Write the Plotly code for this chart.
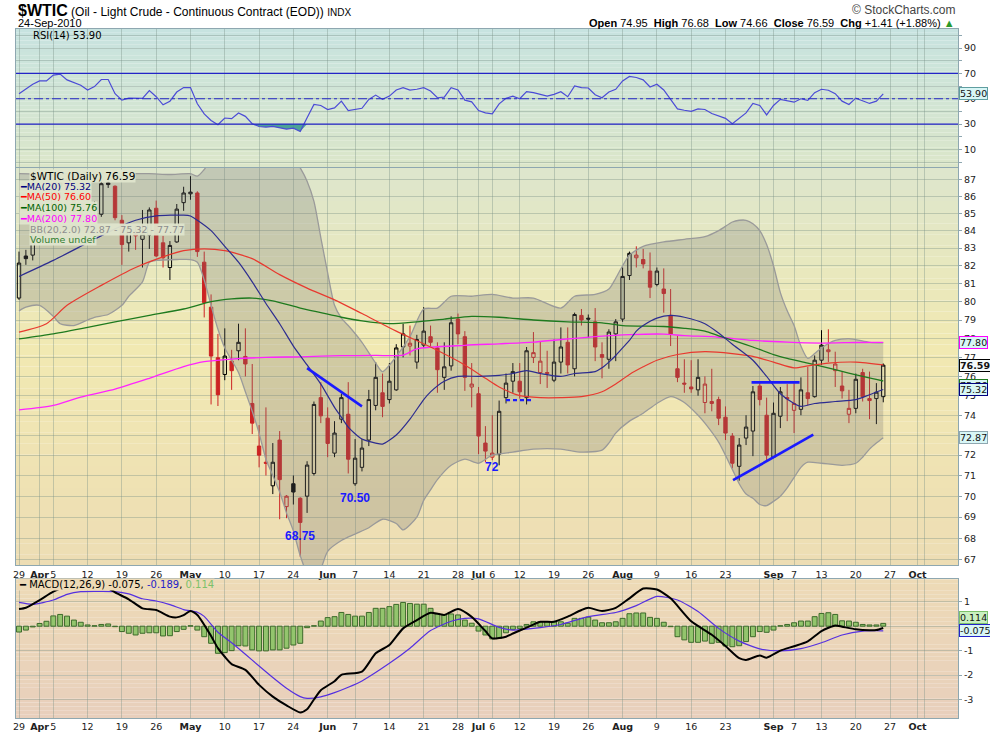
import math
import pandas as pd
import plotly.graph_objects as go

# ---- $WTIC daily, 29 Mar 2010 .. 24 Sep 2010
HOLIDAYS = ["2010-05-31", "2010-07-05", "2010-09-06"]

opens = [80.20, 82.55, 82.60, 83.70, 84.85, 85.00, 86.60, 86.80, 85.80, 85.20,
         84.80, 85.50, 84.95, 86.70, 86.60, 84.60, 83.30, 83.90, 83.50, 83.75,
         85.30, 83.30, 81.90, 83.35, 85.63, 86.15, 86.20, 82.20, 79.70, 76.98,
         76.10, 76.80, 77.35, 77.05, 74.60, 72.45, 71.65, 70.50, 72.75, 69.50,
         70.60, 69.90, 70.00, 71.10, 74.90, 73.85, 72.10, 73.80, 74.05, 70.60,
         71.40, 72.75, 74.50, 75.15, 74.80, 75.30, 77.55, 77.60, 76.75, 77.65,
         78.10, 77.50, 75.95, 76.55, 79.05, 78.10, 75.45, 75.10, 72.60, 71.90,
         72.05, 74.90, 75.75, 75.75, 74.90, 77.00, 76.20, 76.15, 75.80, 76.75,
         77.80, 76.40, 79.25, 79.10, 78.90, 77.15, 76.90, 78.25, 79.05, 81.45,
         82.45, 82.35, 81.70, 80.95, 80.70, 79.25, 76.40, 75.65, 75.45, 75.30,
         74.65, 74.60, 74.80, 73.90, 72.95, 71.45, 72.85, 73.20, 75.50, 74.00,
         71.90, 73.95, 74.90, 74.25, 74.30, 75.15, 74.95, 76.85, 77.30, 76.30,
         75.50, 74.05, 74.35, 76.20, 74.85, 74.85, 74.95]
highs = [82.80, 82.90, 83.80, 85.00, 84.95, 86.90, 87.10, 87.05, 86.30, 85.60,
         85.20, 85.70, 86.95, 86.95, 86.65, 84.90, 84.25, 84.30, 85.20, 85.35,
         85.75, 83.70, 83.40, 85.55, 86.57, 87.20, 86.30, 82.80, 80.40, 78.25,
         78.55, 77.40, 78.80, 78.55, 76.65, 73.50, 74.40, 72.60, 73.20, 70.05,
         71.00, 69.95, 71.70, 74.70, 75.70, 74.40, 73.70, 75.10, 75.70, 72.80,
         72.80, 75.30, 76.75, 76.15, 76.70, 77.70, 78.80, 78.70, 78.20, 79.70,
         78.70, 77.80, 77.80, 79.20, 79.35, 78.40, 76.70, 75.45, 73.45, 74.00,
         74.75, 76.15, 76.70, 76.70, 77.55, 78.35, 77.85, 77.35, 77.95, 78.60,
         78.60, 79.40, 79.60, 79.30, 79.65, 77.80, 78.50, 79.05, 81.90, 82.80,
         83.10, 82.95, 82.75, 81.90, 81.85, 80.70, 78.15, 76.90, 76.85, 76.90,
         76.00, 76.40, 74.95, 74.45, 73.10, 72.85, 74.00, 75.50, 75.70, 74.90,
         74.65, 75.45, 75.60, 75.65, 75.95, 76.50, 77.10, 78.45, 78.50, 77.30,
         76.25, 75.30, 76.15, 76.40, 76.25, 75.65, 76.68]
lows = [80.10, 82.05, 82.30, 83.40, 84.75, 84.80, 85.90, 85.60, 84.60, 84.50,
        83.90, 84.80, 84.80, 86.50, 84.60, 82.05, 82.80, 82.90, 81.90, 82.95,
        82.50, 81.90, 81.20, 83.30, 85.15, 85.80, 82.50, 79.14, 74.55, 74.47,
        75.80, 75.30, 76.85, 76.00, 73.05, 71.40, 71.00, 70.10, 68.90, 68.95,
        69.60, 67.15, 69.20, 71.00, 73.60, 71.90, 71.90, 73.60, 71.10, 70.50,
        71.20, 72.45, 74.25, 73.90, 74.60, 75.25, 77.00, 77.10, 76.40, 77.50,
        77.60, 75.15, 75.30, 76.30, 77.70, 75.25, 74.40, 72.05, 71.65, 71.75,
        71.50, 74.60, 75.15, 74.85, 74.55, 76.70, 75.60, 75.40, 75.70, 76.15,
        76.15, 76.00, 78.70, 78.05, 76.80, 75.90, 76.40, 76.80, 78.90, 81.20,
        81.90, 81.85, 80.20, 80.85, 79.40, 77.60, 75.70, 75.15, 75.15, 75.00,
        74.10, 74.20, 73.50, 72.75, 71.35, 70.75, 72.50, 71.95, 74.50, 71.75,
        71.85, 73.35, 73.70, 73.10, 74.00, 74.50, 74.90, 76.60, 76.75, 75.45,
        74.85, 73.60, 74.10, 74.70, 73.80, 73.55, 74.66]
closes = [82.15, 82.40, 83.50, 84.85, 84.87, 86.60, 86.80, 85.90, 85.10, 84.90,
          84.30, 85.20, 86.75, 86.80, 84.75, 83.20, 84.15, 83.70, 83.80, 85.20,
          82.55, 82.45, 83.15, 85.25, 86.20, 86.25, 82.80, 79.95, 77.07, 75.05,
          77.07, 76.30, 77.80, 76.65, 73.60, 72.00, 71.60, 71.65, 70.80, 70.00,
          70.20, 68.75, 71.51, 74.55, 73.97, 72.58, 73.10, 74.90, 71.80, 71.85,
          72.35, 74.80, 75.95, 74.45, 75.75, 77.50, 78.25, 77.75, 77.95, 78.40,
          77.80, 76.35, 76.50, 78.85, 78.25, 75.95, 75.60, 72.95, 72.20, 72.10,
          74.20, 75.65, 76.25, 75.20, 77.35, 77.25, 76.80, 76.20, 76.75, 77.55,
          76.60, 79.30, 79.00, 79.05, 77.55, 77.00, 78.35, 78.90, 81.40, 82.70,
          82.60, 82.10, 80.80, 81.70, 80.45, 78.25, 75.95, 75.60, 75.35, 75.95,
          75.60, 74.70, 73.85, 73.10, 71.60, 72.50, 73.40, 75.20, 74.80, 72.00,
          74.10, 75.20, 74.85, 74.60, 75.30, 74.85, 76.85, 77.65, 77.40, 76.65,
          75.25, 74.35, 75.85, 74.95, 74.75, 75.18, 76.59]
close_before = 80.00  # 26 Mar close, only decides the colour of the first candle

# overlays, read at a handful of trading days (day number 0 = 29 Mar)
ma20_days = [0, 5, 10, 14, 17, 20, 24, 25, 26, 28, 30, 32, 34, 36, 38, 40, 42, 44, 46, 47,
             48, 50, 52, 53, 55, 57, 59, 60, 62, 64, 67, 70, 72, 74, 76, 79, 81, 84, 85, 86,
             87, 88, 89, 90, 91, 93, 95, 97, 100, 102, 104, 107, 109, 111, 113, 114, 116, 119,
             122, 124, 126]
ma20 = [81.4, 82.3, 83.3, 84.1, 84.6, 84.85, 84.9, 84.85, 84.6, 84.0, 83.1, 82.2, 81.1, 79.9,
        78.8, 77.6, 76.6, 75.6, 74.4, 73.9, 73.4, 72.8, 72.6, 72.55, 73.0, 73.8, 74.8, 75.2,
        75.75, 76.0, 76.0, 76.05, 76.15, 76.3, 76.15, 76.0, 76.15, 76.25, 76.45, 76.75, 77.1,
        77.5, 77.9, 78.4, 78.7, 79.1, 79.25, 79.15, 78.8, 78.3, 77.7, 76.85, 76.0, 75.1, 74.6,
        74.45, 74.6, 74.7, 74.8, 75.05, 75.32]
ma50_days = [0, 4, 7, 12, 17, 21, 24, 27, 30, 34, 38, 42, 46, 50, 55, 60, 65, 68, 70, 73,
             76, 79, 82, 85, 87, 89, 91, 93, 96, 100, 104, 107, 110, 113, 115, 118, 122, 126]
ma50 = [78.35, 78.8, 79.8, 80.9, 81.9, 82.5, 82.85, 82.95, 82.85, 82.4, 81.5, 80.75, 80.1,
        79.35, 78.4, 77.55, 76.6, 75.9, 75.45, 75.0, 74.9, 74.9, 74.95, 75.2, 75.6, 76.1, 76.5,
        76.85, 77.15, 77.3, 77.2, 77.05, 76.75, 76.45, 76.55, 76.7, 76.75, 76.6]
ma100_days = [0, 5, 10, 14, 19, 24, 28, 31, 34, 37, 41, 44, 47, 50, 54, 58, 62, 66, 70, 75,
              80, 85, 88, 94, 97, 100, 102, 105, 107, 110, 112, 115, 119, 123, 126]
ma100 = [77.98, 78.25, 78.6, 78.9, 79.25, 79.6, 80.0, 80.15, 80.2, 80.05, 79.65, 79.4, 79.15,
         78.95, 78.8, 78.9, 79.05, 79.2, 79.15, 79.0, 78.9, 78.85, 78.7, 78.65, 78.55, 78.4,
         78.15, 77.8, 77.55, 77.15, 76.95, 76.7, 76.35, 76.0, 75.76]
ma200_days = [0, 5, 9, 14, 19, 24, 27, 31, 36, 41, 47, 52, 56, 58, 65, 70, 75, 79, 84, 89,
              94, 97, 102, 107, 112, 117, 122, 126]
ma200 = [74.27, 74.5, 74.93, 75.34, 75.9, 76.51, 76.77, 76.91, 77.0, 77.03, 77.09, 77.1,
         77.12, 77.45, 77.64, 77.72, 77.81, 77.95, 78.1, 78.21, 78.24, 78.16, 78.07, 77.9,
         77.81, 77.76, 77.79, 77.80]
bb_up_days = [0, 5, 10, 15, 19, 22, 25, 26, 27, 28, 32, 36, 40, 41, 42, 43, 44, 45, 46, 47,
              48, 50, 52, 53, 55, 57, 59, 61, 63, 66, 69, 72, 75, 79, 81, 84, 86, 87, 88, 89,
              91, 94, 97, 100, 102, 104, 105, 106, 107, 108, 109, 110, 111, 112, 113, 114, 115,
              116, 117, 119, 121, 124, 126]
bb_up = [87.35, 87.3, 87.4, 87.35, 87.35, 87.3, 87.35, 87.2, 87.6, 88.2, 89.0, 89.0, 88.3,
         87.7, 86.9, 85.7, 83.6, 81.6, 79.8, 79.1, 78.7, 77.8, 76.7, 76.25, 77.05, 78.1, 79.6,
         79.65, 80.3, 80.3, 80.4, 80.2, 80.2, 79.65, 80.3, 80.4, 80.7, 81.3, 82.0, 82.6, 83.1,
         83.35, 83.5, 83.65, 84.0, 84.5, 84.6, 84.6, 84.4, 84.0, 83.2, 82.0, 80.5, 79.5, 78.7,
         77.6, 76.95, 77.2, 77.5, 77.9, 78.0, 77.8, 77.77]
bb_lo_days = [0, 1, 3, 5, 6, 8, 10, 11, 13, 15, 16, 18, 19, 20, 23, 25, 26, 27, 28, 29, 30,
              32, 33, 34, 35, 36, 37, 38, 39, 40, 41, 42, 43, 44, 45, 47, 49, 51, 53, 55, 56,
              58, 59, 60, 61, 63, 65, 67, 69, 72, 75, 79, 82, 85, 86, 87, 89, 91, 93, 95, 97,
              99, 100, 102, 104, 105, 106, 107, 108, 109, 110, 111, 112, 113, 114, 115, 117,
              120, 122, 123, 124, 125, 126]
bb_lo = [79.5, 79.7, 79.8, 79.2, 78.8, 78.7, 79.0, 79.15, 79.3, 79.8, 80.3, 81.1, 82.2, 82.3,
         82.35, 82.35, 82.2, 81.2, 79.8, 78.5, 77.5, 76.2, 75.2, 74.2, 73.1, 71.8, 71.0, 70.2,
         69.2, 68.35, 67.2, 66.4, 66.2, 66.6, 67.4, 67.9, 68.2, 68.5, 68.9, 68.7, 68.4, 69.0,
         69.8, 70.3, 70.8, 71.5, 71.8, 71.6, 72.0, 72.15, 72.3, 72.3, 72.15, 72.25, 72.6, 73.1,
         73.7, 74.1, 74.6, 74.95, 74.65, 74.0, 73.6, 72.65, 71.3, 70.6, 70.1, 69.9, 69.6, 69.55,
         69.75, 70.0, 70.4, 70.9, 71.4, 71.65, 71.6, 71.5, 71.6, 71.9, 72.3, 72.6, 72.87]

rsi = [54.0, 57.5, 61.5, 64.1, 64.1, 68.7, 69.5, 64.9, 62.8, 60.7, 56.9, 59.6, 65.2, 65.2,
       54.0, 48.9, 50.5, 50.3, 50.3, 56.4, 51.6, 45.2, 48.1, 55.3, 58.8, 58.8, 46.0, 38.0,
       32.9, 29.5, 34.8, 34.3, 38.8, 36.1, 30.3, 28.1, 27.6, 28.1, 26.8, 26.0, 26.8, 24.1,
       35.0, 45.5, 44.7, 41.5, 42.8, 48.1, 40.7, 41.5, 42.5, 49.5, 52.9, 49.5, 52.1, 56.9,
       58.8, 56.9, 57.5, 58.8, 56.1, 50.8, 51.3, 58.8, 56.9, 48.9, 47.6, 40.7, 38.8, 38.0,
       46.0, 50.3, 52.1, 50.0, 55.6, 54.8, 53.5, 52.1, 53.5, 55.6, 51.6, 60.1, 58.8, 58.5,
       53.2, 50.8, 55.3, 57.5, 64.1, 67.6, 66.8, 64.9, 59.3, 61.5, 56.9, 49.5, 42.0, 40.9,
       40.1, 42.0, 41.5, 38.3, 36.1, 34.5, 30.3, 34.3, 38.8, 46.3, 44.7, 37.2, 44.7, 49.5,
       48.1, 47.3, 50.0, 48.7, 54.8, 57.5, 56.7, 54.0, 48.1, 45.5, 50.5, 48.1, 46.3, 48.1, 53.9]

macd_hist = [-0.24, -0.16, -0.03, 0.11, 0.20, 0.42, 0.48, 0.41, 0.25, 0.16, 0.05, 0.02, 0.07,
             0.09, -0.02, -0.22, -0.29, -0.36, -0.29, -0.27, -0.27, -0.40, -0.39, -0.22, -0.13,
             0.02, -0.16, -0.43, -0.70, -1.11, -1.08, -1.00, -0.80, -0.81, -0.97, -1.01, -1.01,
             -0.97, -0.97, -0.90, -0.77, -0.70, -0.06, 0.02, 0.21, 0.35, 0.39, 0.56, 0.48, 0.41,
             0.41, 0.56, 0.73, 0.73, 0.80, 0.89, 0.97, 0.93, 0.90, 0.90, 0.73, 0.52, 0.46, 0.50,
             0.46, 0.25, 0.12, -0.20, -0.36, -0.52, -0.50, -0.27, -0.13, -0.09, 0.07, 0.18, 0.18,
             0.18, 0.18, 0.18, 0.12, 0.32, 0.32, 0.37, 0.25, 0.14, 0.14, 0.18, 0.32, 0.51, 0.54,
             0.54, 0.36, 0.32, 0.16, -0.02, -0.43, -0.56, -0.66, -0.66, -0.61, -0.70, -0.66,
             -0.81, -0.84, -0.80, -0.63, -0.43, -0.22, -0.25, -0.16, 0.02, 0.07, 0.14, 0.21,
             0.21, 0.39, 0.52, 0.55, 0.48, 0.22, 0.21, 0.16, 0.07, 0.05, 0.05, 0.114]
macd_days = [0, 1, 3, 5, 7, 9, 11, 13, 14, 16, 18, 20, 22, 23, 24, 25, 26, 28, 29, 30, 31, 33,
             35, 37, 39, 41, 42, 43, 44, 46, 47, 50, 52, 54, 56, 58, 60, 62, 64, 66, 68, 69, 71,
             72, 74, 76, 78, 80, 82, 83, 85, 87, 89, 91, 93, 95, 98, 101, 103, 105, 106, 108,
             109, 111, 113, 115, 117, 119, 120, 122, 124, 125, 126]
macd_line = [0.70, 0.755, 1.07, 1.41, 1.65, 1.78, 1.75, 1.55, 1.38, 1.10, 0.73, 0.66, 0.39,
             0.36, 0.45, 0.62, 0.46, -0.40, -0.90, -1.25, -1.55, -1.79, -2.40, -2.88, -3.24,
             -3.53, -3.40, -3.00, -2.62, -2.25, -1.99, -1.86, -1.11, -0.77, -0.09, 0.25, 0.55,
             0.46, 0.70, 0.38, -0.20, -0.50, -0.43, -0.30, -0.06, 0.18, 0.18, 0.39, 0.66, 0.75,
             0.62, 0.75, 1.14, 1.54, 1.50, 1.14, 0.20, -0.35, -0.81, -1.31, -1.38, -1.20, -1.29,
             -1.00, -0.82, -0.62, -0.20, 0.03, -0.02, -0.13, -0.17, -0.16, -0.075]
signal_days = [0, 2, 5, 7, 9, 12, 14, 16, 18, 20, 22, 24, 26, 27, 29, 31, 33, 35, 37, 39, 41,
               42, 44, 46, 48, 50, 54, 57, 60, 63, 65, 67, 70, 72, 76, 79, 83, 87, 90, 93, 96,
               99, 102, 105, 108, 111, 114, 117, 120, 123, 126]
signal_line = [0.97, 0.89, 1.07, 1.30, 1.41, 1.42, 1.41, 1.32, 1.12, 1.03, 0.88, 0.68, 0.57,
               0.40, -0.25, -0.68, -1.15, -1.63, -2.10, -2.54, -2.88, -2.95, -2.89, -2.72,
               -2.50, -2.24, -1.52, -0.90, -0.18, 0.20, 0.32, 0.30, -0.05, -0.16, -0.06, 0.07,
               0.39, 0.56, 0.84, 1.22, 1.07, 0.60, -0.09, -0.61, -0.93, -1.01, -0.92, -0.68,
               -0.36, -0.20, -0.189]

# hand-drawn trendlines on the chart: (day, price) -> (day, price)
trendlines = [((42.0, 76.43), (50.0, 74.45)),
              ((106.8, 75.69), (113.8, 75.69)),
              ((104.1, 70.77), (115.8, 73.02))]
support_dash = ((71.0, 74.77), (74.9, 74.77))
# swing-low notes written under candles
note_days = [41, 49, 69]
note_texts = ["68.75", "70.50", "72"]

tick_dates = ["2010-03-29", "2010-04-01", "2010-04-05", "2010-04-12", "2010-04-19",
              "2010-04-26", "2010-05-03", "2010-05-10", "2010-05-17", "2010-05-24",
              "2010-06-01", "2010-06-07", "2010-06-14", "2010-06-21", "2010-06-28",
              "2010-07-01", "2010-07-06", "2010-07-12", "2010-07-19", "2010-07-26",
              "2010-08-02", "2010-08-09", "2010-08-16", "2010-08-23", "2010-08-30",
              "2010-09-01", "2010-09-07", "2010-09-13", "2010-09-20", "2010-09-27",
              "2010-10-01", "2010-10-04"]
tick_text = ["29", "<b>Apr</b>", "5", "12", "19", "26", "<b>May</b>", "10", "17", "24",
             "<b>Jun</b>", "7", "14", "21", "28", "<b>Jul</b>", "6", "12", "19", "26",
             "<b>Aug</b>", "9", "16", "23", "", "<b>Sep</b>", "7", "13", "20", "27",
             "<b>Oct</b>", ""]

# ---- layout helpers (positions in pixels of the 990x744 page)
W, H = 990, 744
ML, MR, MT, MB = 16, 32, 29, 16
RED = "#cc2323"
GRID = "rgba(120,145,135,0.38)"
BORDER = "#8ea7b0"
TICKFONT = dict(family="DejaVu Sans", size=9.5, color="#222")


def px(x):
    return (x - ML) / (W - ML - MR)


def py(y):
    return (H - MB - y) / (H - MT - MB)


def mix(stops, t):
    for (t0, c0), (t1, c1) in zip(stops, stops[1:]):
        if t <= t1:
            f = (t - t0) / (t1 - t0)
            c = [round(a + (b - a) * f) for a, b in zip(c0, c1)]
            return "rgb(%d,%d,%d)" % tuple(c)
    return "rgb(%d,%d,%d)" % stops[-1][1]


holiday_set = set(HOLIDAYS)
days = [d for d in pd.bdate_range("2010-03-29", "2010-10-08")
        if d.strftime("%Y-%m-%d") not in holiday_set]
day_no = {d.strftime("%Y-%m-%d"): i for i, d in enumerate(days)}
tick_pos = [day_no[d] for d in tick_dates]
n = len(closes)
xs = list(range(n))

fig = go.Figure()

# panel backgrounds: StockCharts fades each panel vertically, plotly has no gradient fill
panels = [("x", "y", [(0, (199, 227, 224)), (1, (219, 230, 201))]),
          ("x2", "y2", [(0, (221, 230, 205)), (0.45, (241, 233, 178)), (1, (237, 221, 180))]),
          ("x3", "y3", [(0, (237, 218, 182)), (1, (232, 207, 188))])]
for xr, yr, stops in panels:
    bands = 36
    for k in range(bands):
        fig.add_shape(type="rect", xref=xr + " domain", yref=yr + " domain",
                      x0=0, x1=1, y0=1 - (k + 1) / bands, y1=1 - k / bands,
                      fillcolor=mix(stops, (k + 0.5) / bands), line_width=0, layer="below")

# ---- RSI panel
rsi_floor = [min(v, 30) for v in rsi]
fig.add_trace(go.Scatter(x=xs, y=[30] * n, mode="lines", line=dict(width=0, color="rgba(0,0,0,0)"),
                         xaxis="x", yaxis="y", hoverinfo="skip"))
fig.add_trace(go.Scatter(x=xs, y=rsi_floor, mode="lines", line=dict(width=0, color="rgba(0,0,0,0)"),
                         fill="tonexty", fillcolor="rgba(52,150,140,0.85)",
                         xaxis="x", yaxis="y", hoverinfo="skip"))
fig.add_trace(go.Scatter(x=xs, y=rsi, mode="lines", line=dict(color="#4b4bd6", width=1.2),
                         xaxis="x", yaxis="y"))
for lvl, dash in ((70, "solid"), (30, "solid"), (50, "dashdot")):
    fig.add_shape(type="line", xref="x domain", yref="y", x0=0, x1=1, y0=lvl, y1=lvl,
                  line=dict(color="#2424c8", width=1.2, dash=dash))

# ---- price panel
fig.add_trace(go.Scatter(x=bb_up_days, y=bb_up, mode="lines",
                         line=dict(color="#9a9a9a", width=1.3, shape="spline", smoothing=0.7),
                         xaxis="x2", yaxis="y2"))
fig.add_trace(go.Scatter(x=bb_lo_days, y=bb_lo, mode="lines",
                         line=dict(color="#9a9a9a", width=1.3, shape="spline", smoothing=0.7),
                         fill="tonexty", fillcolor="rgba(115,115,115,0.26)", xaxis="x2", yaxis="y2"))

prev = [close_before] + closes[:-1]
down = [c < p for c, p in zip(closes, prev)]
for flag, col in ((False, "#000000"), (True, RED)):
    sel = [i for i in xs if down[i] == flag]
    fig.add_trace(go.Candlestick(
        x=sel, open=[opens[i] for i in sel], high=[highs[i] for i in sel],
        low=[lows[i] for i in sel], close=[closes[i] for i in sel],
        increasing=dict(line=dict(color=col, width=1), fillcolor="rgba(0,0,0,0)"),
        decreasing=dict(line=dict(color=col, width=1), fillcolor=col),
        whiskerwidth=0, xaxis="x2", yaxis="y2"))

for d, v, col, w in ((ma200_days, ma200, "#ff22ff", 1.3), (ma100_days, ma100, "#1e7a1e", 1.3),
                     (ma50_days, ma50, "#e8392f", 1.2), (ma20_days, ma20, "#2c2c90", 1.2)):
    fig.add_trace(go.Scatter(x=d, y=v, mode="lines",
                             line=dict(color=col, width=w, shape="spline", smoothing=0.7),
                             xaxis="x2", yaxis="y2"))

for (a, b) in trendlines:
    fig.add_trace(go.Scatter(x=[a[0], b[0]], y=[a[1], b[1]], mode="lines",
                             line=dict(color="#1a1aff", width=2.6), xaxis="x2", yaxis="y2"))
fig.add_trace(go.Scatter(x=[support_dash[0][0], support_dash[1][0]],
                         y=[support_dash[0][1], support_dash[1][1]], mode="lines",
                         line=dict(color="#1a1aff", width=2.4, dash="4px,3px"),
                         xaxis="x2", yaxis="y2"))

# ---- MACD panel
fig.add_trace(go.Bar(x=xs, y=macd_hist, width=0.72,
                     marker=dict(color="#93c56d", line=dict(color="#3d6a2b", width=1)),
                     xaxis="x3", yaxis="y3"))
fig.add_trace(go.Scatter(x=signal_days, y=signal_line, mode="lines",
                         line=dict(color="#5530e0", width=1.2, shape="spline", smoothing=0.6),
                         xaxis="x3", yaxis="y3"))
fig.add_trace(go.Scatter(x=macd_days, y=macd_line, mode="lines",
                         line=dict(color="#000000", width=2, shape="spline", smoothing=0.6),
                         xaxis="x3", yaxis="y3"))

# ---- text
ann = []


def note(text, x, y, size=11, color="#000", family="Liberation Sans", xanchor="left", bg=None, **kw):
    d = dict(text=text, xref="paper", yref="paper", x=px(x), y=py(y), xanchor=xanchor,
             yanchor="middle", showarrow=False, font=dict(family=family, size=size, color=color))
    if bg:
        d.update(bgcolor=bg, borderpad=0)
    d.update(kw)
    ann.append(d)


def tag(yref, val, text, border, bg="#d8f6f6", color="#111", yshift=0):
    ann.append(dict(text=text, xref="paper", yref=yref, x=1, y=val, xanchor="left", yanchor="middle",
                    xshift=1, yshift=yshift, showarrow=False, bgcolor=bg, bordercolor=border,
                    borderwidth=1, borderpad=0,
                    font=dict(family="DejaVu Sans", size=9.5, color=color)))


chg = closes[-1] - closes[-2]
note("<b><span style='font-size:16px'>$WTIC</span></b> (Oil - Light Crude - Continuous Contract (EOD)) "
     "<span style='font-size:10px'>INDX</span>", 16, 10, size=12)
note("24-Sep-2010", 16, 23, size=11)
note("\u00a9 StockCharts.com", 958, 10, size=12, color="#444", xanchor="right")
note("<b>Open</b> %.2f  <b>High</b> %.2f  <b>Low</b> %.2f  <b>Close</b> %.2f  <b>Chg</b> %+.2f (%+.2f%%) "
     "<span style='color:#2b9a2b'>\u25b2</span>"
     % (opens[-1], highs[-1], lows[-1], closes[-1], chg, chg / closes[-2] * 100),
     957, 23, size=11, xanchor="right")

note("RSI(14) %.2f" % rsi[-1], 31, 36, size=10, family="DejaVu Sans")

legend_rows = [("$WTIC (Daily) %.2f" % closes[-1], "#000", 177.7),
               ("\u2501MA(20) %.2f" % ma20[-1], "#000080", 188.3),
               ("\u2501MA(50) %.2f" % ma50[-1], "#ff0000", 199.3),
               ("\u2501MA(100) %.2f" % ma100[-1], "#006400", 210.0),
               ("\u2501MA(200) %.2f" % ma200[-1], "#ff00ff", 221.0),
               ("BB(20,2.0) %.2f - %.2f - %.2f" % (bb_lo[-1], ma20[-1], bb_up[-1]), "#8e8e8e", 232.3),
               ("Volume undef", "#2e7d2e", 242.7)]
for i, (txt, col, yy) in enumerate(legend_rows):
    note(txt, 19 if i in (1, 2, 3, 4) else 29, yy, size=9.5 if i else 10.5, color=col,
         family="DejaVu Sans", bg="rgba(223,229,204,0.95)")

note("<span style='color:#000'>\u2501 MACD(12,26,9) %.3f</span>, <span style='color:#2323c8'>%.3f</span>, "
     "<span style='color:#7cc16a'>%.3f</span>" % (macd_line[-1], signal_line[-1], macd_hist[-1]),
     18, 593, size=10, family="DejaVu Sans", bg="rgb(237,218,182)")

for d, t, ys in zip(note_days, note_texts, (21, -12, -7)):
    ann.append(dict(text="<b>%s</b>" % t, xref="x2", yref="y2", x=d, y=math.log10(lows[d]), yshift=ys,
                    showarrow=False, font=dict(family="Liberation Sans", size=12, color="#1a1aff")))

tag("y2", math.log10(ma200[-1]), "%.2f" % ma200[-1], "#ff00ff")
tag("y2", math.log10(closes[-1]), "<b>%.2f</b>" % closes[-1], "#000", bg="#f4fbfb")
tag("y2", math.log10(ma100[-1]), "%.2f" % ma100[-1], "#1e7a1e", yshift=-4)
tag("y2", math.log10(ma20[-1]), "%.2f" % ma20[-1], "#000080")
tag("y2", math.log10(bb_lo[-1]), "%.2f" % bb_lo[-1], "#8ea7b0")
tag("y", rsi[-1], "%.2f" % rsi[-1], "#5f9ea0")
tag("y3", macd_hist[-1], "%.3f" % macd_hist[-1], "#7cc16a", bg="#c9f0c0", yshift=6)
tag("y3", macd_line[-1], "%.3f" % macd_line[-1], "#2323c8", yshift=-2)

xbase = dict(range=[-0.44, 136.9], tickmode="array", tickvals=tick_pos, ticktext=tick_text,
             tickangle=0, showgrid=True, gridcolor=GRID, gridwidth=1, zeroline=False,
             showline=True, linecolor=BORDER, linewidth=1, mirror=True, ticks="",
             tickfont=TICKFONT, rangeslider=dict(visible=False), fixedrange=True)
ybase = dict(side="right", showgrid=True, gridcolor=GRID, gridwidth=1, zeroline=False,
             showline=True, linecolor=BORDER, linewidth=1, mirror=True, ticks="outside",
             ticklen=3, tickcolor=BORDER, tickfont=TICKFONT, fixedrange=True)

price_ticks = list(range(67, 88))
fig.update_layout(
    width=W, height=H, margin=dict(l=ML, r=MR, t=MT, b=MB),
    paper_bgcolor="white", plot_bgcolor="rgba(0,0,0,0)",
    showlegend=False, hovermode=False, boxmode="overlay",
    xaxis=dict(xbase, anchor="y", showticklabels=False),
    xaxis2=dict(xbase, anchor="y2", matches="x"),
    xaxis3=dict(xbase, anchor="y3", matches="x"),
    yaxis=dict(ybase, domain=[py(169), 1], range=[-3.9, 105.1], tickmode="array",
               tickvals=list(range(0, 101, 10)),
               ticktext=["", "10", "", "30", "", "50", "", "70", "", "90", ""]),
    yaxis2=dict(ybase, domain=[py(573), py(170)], type="log", range=[1.82451, 1.94296],
                tickmode="array", tickvals=price_ticks, ticktext=[str(p) for p in price_ticks]),
    yaxis3=dict(ybase, domain=[0, py(587.3)], range=[-3.756, 1.917], tickmode="array",
                tickvals=[-3, -2, -1, 0, 1], ticktext=["-3", "-2", "-1", "0", "1"]),
    annotations=ann,
)

# the page body has a default 8px margin; drop it so the figure sits at the window corner
fig.write_html("out.html", config={"displayModeBar": False},
               post_script="document.body.style.margin='0';document.body.style.overflow='hidden';")
